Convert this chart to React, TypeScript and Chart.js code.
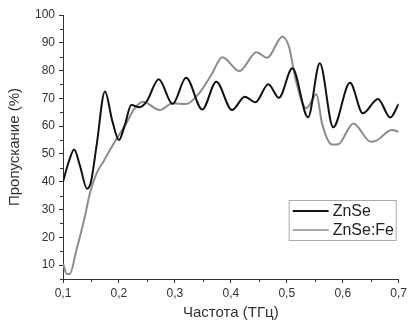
import React, { useEffect, useRef } from 'react';
import { Chart, registerables } from 'chart.js';

Chart.register(...registerables);

const seriesNames = ['ZnSe', 'ZnSe:Fe'];
const xTitle = 'Частота (ТГц)';
const yTitle = 'Пропускание (%)';

const znseX = [0.1, 0.11, 0.12, 0.13, 0.143, 0.15, 0.16, 0.175, 0.188, 0.2, 0.21, 0.222, 0.237, 0.25, 0.271, 0.296, 0.32, 0.349, 0.374, 0.402, 0.425, 0.444, 0.467, 0.486, 0.51, 0.538, 0.559, 0.583, 0.613, 0.636, 0.663, 0.685, 0.7];
const znseY = [40, 47, 51.6, 46, 37.5, 40, 53, 72.5, 62, 55, 60, 67.6, 66.8, 69, 76.9, 68, 77.4, 66, 76, 65.8, 70.6, 68.6, 75.1, 70.2, 80.8, 63.2, 82.6, 59.6, 75.6, 64.6, 69.8, 63.1, 68];

const feX = [0.1, 0.107, 0.112, 0.124, 0.139, 0.148, 0.16, 0.172, 0.184, 0.198, 0.213, 0.228, 0.243, 0.273, 0.296, 0.32, 0.344, 0.365, 0.385, 0.415, 0.446, 0.465, 0.492, 0.504, 0.516, 0.535, 0.553, 0.563, 0.581, 0.592, 0.619, 0.65, 0.66, 0.688, 0.7];
const feY = [10.5, 6.8, 6.8, 15.4, 27.4, 35.8, 43, 47.2, 51.4, 56.2, 61, 66.4, 68.8, 65.8, 68.2, 68, 72, 78.4, 84.8, 79.8, 86.6, 84.6, 92.2, 88.6, 76.6, 66.4, 71.5, 61, 53.4, 53.5, 61, 54.4, 54.8, 58.6, 58];

const xTicks = [0.1, 0.2, 0.3, 0.4, 0.5, 0.6, 0.7];
const xMinor = [0.15, 0.25, 0.35, 0.45, 0.55, 0.65];
const yTicks = [10, 20, 30, 40, 50, 60, 70, 80, 90, 100];
const yMinor = [5, 15, 25, 35, 45, 55, 65, 75, 85, 95];

const FONT = 'Arial, "Liberation Sans", sans-serif';
const colors = ['#111111', '#8c8c8c'];

const extras = {
  id: 'extras',
  afterDraw(chart: any) {
    const ctx = chart.ctx;
    const xs = chart.scales.x;
    const ys = chart.scales.y;
    ctx.save();
    ctx.strokeStyle = '#333';
    ctx.lineWidth = 1;
    ctx.beginPath();
    xMinor.forEach((v) => {
      const px = Math.round(xs.getPixelForValue(v)) + 0.5;
      ctx.moveTo(px, ys.bottom);
      ctx.lineTo(px, ys.bottom + 3);
    });
    yMinor.forEach((v) => {
      const py = Math.round(ys.getPixelForValue(v)) + 0.5;
      ctx.moveTo(xs.left, py);
      ctx.lineTo(xs.left - 3, py);
    });
    ctx.stroke();

    // legend box inside plot
    const ca = chart.chartArea;
    const bw = 107;
    const bh = 40;
    const bx = ca.right - 3 - bw;
    const by = ca.top + 185;
    ctx.fillStyle = '#fff';
    ctx.fillRect(bx, by, bw, bh);
    ctx.strokeStyle = '#aaa';
    ctx.lineWidth = 1;
    ctx.strokeRect(bx + 0.5, by + 0.5, bw, bh);
    seriesNames.forEach((name, i) => {
      const cy = by + 11 + i * 19;
      ctx.strokeStyle = colors[i];
      ctx.lineWidth = i === 0 ? 2 : 1.5;
      ctx.beginPath();
      ctx.moveTo(bx + 4, cy);
      ctx.lineTo(bx + 40, cy);
      ctx.stroke();
      ctx.fillStyle = '#222';
      ctx.font = `16px ${FONT}`;
      ctx.textBaseline = 'middle';
      ctx.textAlign = 'left';
      ctx.fillText(name, bx + 44, cy + 1);
    });
    ctx.restore();
  },
};

export default function App() {
  const ref = useRef<HTMLCanvasElement | null>(null);
  useEffect(() => {
    if (!ref.current) return;
    const chart = new Chart(ref.current, {
      type: 'line',
      data: {
        datasets: [
          {
            label: seriesNames[0],
            data: znseX.map((x, i) => ({ x, y: znseY[i] })),
            borderColor: colors[0],
            borderWidth: 2,
            pointRadius: 0,
            cubicInterpolationMode: 'monotone',
            fill: false,
          },
          {
            label: seriesNames[1],
            data: feX.map((x, i) => ({ x, y: feY[i] })),
            borderColor: colors[1],
            borderWidth: 2,
            pointRadius: 0,
            cubicInterpolationMode: 'monotone',
            fill: false,
          },
        ],
      },
      options: {
        responsive: false,
        animation: false,
        layout: { padding: { top: 15, right: 10, left: 0, bottom: 0 } },
        plugins: { legend: { display: false }, tooltip: { enabled: false } },
        scales: {
          x: {
            type: 'linear',
            min: 0.1,
            max: 0.7,
            afterBuildTicks: (s: any) => {
              s.ticks = xTicks.map((v) => ({ value: v }));
            },
            afterFit: (s: any) => {
              s.height = 46;
            },
            ticks: {
              color: '#333',
              font: { family: FONT, size: 12 },
              padding: 3,
              maxRotation: 0,
              callback: (v: any) => Number(v).toFixed(1).replace('.', ','),
            },
            grid: { display: true, drawOnChartArea: false, drawTicks: true, tickLength: 4, color: '#333' },
            border: { display: true, color: '#333', width: 1 },
            title: {
              display: true,
              text: xTitle,
              color: '#333',
              font: { family: FONT, size: 15 },
              padding: { top: 0, bottom: 3 },
            },
          },
          y: {
            type: 'linear',
            min: 5,
            max: 100,
            afterBuildTicks: (s: any) => {
              s.ticks = yTicks.map((v) => ({ value: v }));
            },
            afterFit: (s: any) => {
              s.width = 63;
            },
            ticks: {
              color: '#333',
              font: { family: FONT, size: 12 },
              padding: 4,
            },
            grid: { display: true, drawOnChartArea: false, drawTicks: true, tickLength: 4, color: '#333' },
            border: { display: true, color: '#333', width: 1 },
            title: {
              display: true,
              text: yTitle,
              color: '#333',
              font: { family: FONT, size: 15 },
              padding: { top: 6, bottom: 0 },
            },
          },
        },
      },
      plugins: [extras],
    } as any);
    return () => chart.destroy();
  }, []);
  return (
    <div style={{ position: 'absolute', left: 0, top: 0, width: 410, height: 325, background: '#fff' }}>
      <canvas ref={ref} width={410} height={325} />
    </div>
  );
}
